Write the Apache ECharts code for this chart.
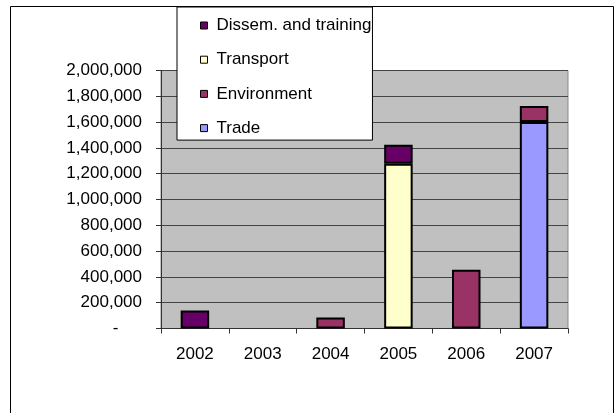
<!DOCTYPE html>
<html>
<head>
<meta charset="utf-8">
<script src="https://cdn.jsdelivr.net/npm/echarts@6/dist/echarts.min.js"></script>
<style>html,body{margin:0;padding:0;background:#fff}#c{width:616px;height:413px}</style>
</head>
<body>
<div id="c"></div>
<script>
const categories = ['2002', '2003', '2004', '2005', '2006', '2007'];
const trade = [null, null, null, null, null, 1600000];
const environment = [null, null, 85000, null, 455000, 125000];
const transport = [null, null, null, 1277000, null, null];
const dissem = [140000, null, null, 147000, null, null];
const yMin = 0, yMax = 2000000, yStep = 200000;

const FONT = "'Liberation Sans', Arial, sans-serif";
const FS = 17;
const chart = echarts.init(document.getElementById('c'), null, {renderer: 'canvas'});
function bar(name, data, color) {
  return {
    name: name, type: 'bar', stack: 'total', data: data, barWidth: 28.5,
    itemStyle: {color: color, borderColor: '#000', borderWidth: 2},
    emphasis: {disabled: true}
  };
}
chart.setOption({
  animation: false,
  textStyle: {fontFamily: FONT},
  graphic: [{
    type: 'rect', left: 8, top: 4, z: 100, silent: true,
    shape: {x: 0, y: 0, width: 603, height: 430},
    style: {fill: 'none', stroke: '#000', lineWidth: 1}
  }],
  grid: {left: 161, right: 48, top: 70.5, bottom: 84.5, show: true, backgroundColor: '#C0C0C0', borderWidth: 1, borderColor: '#8a8a8a'},
  legend: {
    orient: 'vertical', left: 177, top: 7,
    data: ['Dissem. and training', 'Transport', 'Environment', 'Trade'],
    backgroundColor: '#fff', borderColor: '#000', borderWidth: 1,
    padding: [10, 1, 3.5, 23], itemGap: 17.2,
    icon: 'rect', itemWidth: 7, itemHeight: 7,
    itemStyle: {borderColor: '#000', borderWidth: 1},
    textStyle: {fontFamily: FONT, fontSize: FS, color: '#000', lineHeight: 17, padding: [0, 0, 0, 4]},
    selectedMode: false
  },
  xAxis: {
    type: 'category', data: categories, boundaryGap: true,
    axisLine: {lineStyle: {color: '#333', width: 1}},
    axisTick: {show: true, interval: 0, length: 5, lineStyle: {color: '#333'}},
    axisLabel: {interval: 0, margin: 17, fontSize: FS, color: '#000', fontFamily: FONT},
    splitLine: {show: false}
  },
  yAxis: {
    type: 'value', min: yMin, max: yMax, interval: yStep,
    axisLine: {show: true, lineStyle: {color: '#333', width: 1}},
    axisTick: {show: true, length: 5, lineStyle: {color: '#333'}},
    axisLabel: {
      margin: 19, fontSize: FS, color: '#000', fontFamily: FONT,
      formatter: function (v) { return v === 0 ? '-     ' : v.toLocaleString('en-US'); }
    },
    splitLine: {show: true, lineStyle: {color: '#444', width: 1}}
  },
  series: [
    bar('Trade', trade, '#9999FF'),
    bar('Environment', environment, '#993366'),
    bar('Transport', transport, '#FFFFCC'),
    bar('Dissem. and training', dissem, '#660066')
  ]
});
</script>
</body>
</html>
